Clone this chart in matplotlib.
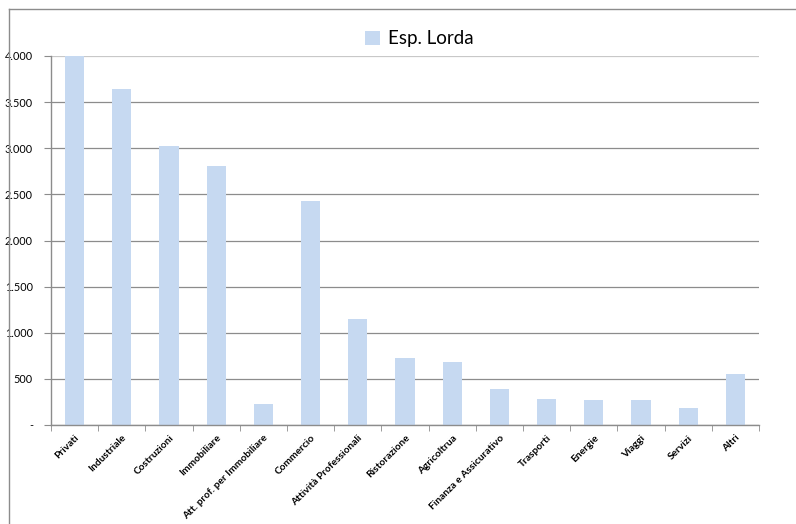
import numpy as np
import matplotlib.pyplot as plt
from matplotlib.lines import Line2D
from matplotlib.ticker import FixedLocator

plt.rcParams['font.family'] = ['Lato', 'DejaVu Sans']

categorie = ['Privati', 'Industriale', 'Costruzioni', 'Immobiliare',
             'Att. prof. per Immobiliare', 'Commercio', 'Attività Professionali',
             'Ristorazione', 'Agricoltrua', 'Finanza e Assicurativo', 'Trasporti',
             'Energie', 'Viaggi', 'Servizi', 'Altri']
esp_lorda = [4000, 3640, 3025, 2810, 230, 2425, 1150, 725, 680, 390, 282, 272, 272, 185, 553]
yticks = [0, 500, 1000, 1500, 2000, 2500, 3000, 3500, 4000]
ytick_labels = ['-', '500', '1.000', '1.500', '2.000', '2.500', '3.000', '3.500', '4.000']

fig = plt.figure(figsize=(7.96, 5.24), dpi=100)
ax = fig.add_axes([51/796, 1 - 425/524, (759 - 51)/796, (425 - 56)/524])

x = np.arange(len(categorie))
ax.bar(x, esp_lorda, width=0.41, color='#c6d9f1', label='Esp. Lorda', zorder=2)

ax.set_xlim(-0.5, len(categorie) - 0.5)
ax.set_ylim(0, 4000)
ax.set_yticks(yticks)
ax.set_yticklabels(ytick_labels, fontsize=7.8)
ax.yaxis.grid(True, color='#8c8c8c', linewidth=0.9, zorder=0)
ax.set_axisbelow(True)
# la griglia in alto e' piu' chiara
ax.yaxis.get_gridlines()[-1].set_color('#c8c8c8')

ax.set_xticks(x)
ax.set_xticklabels(categorie, rotation=45, ha='right', rotation_mode='anchor',
                   fontsize=7.3, fontweight='bold')
ax.tick_params(axis='x', which='major', length=0, pad=6)
ax.xaxis.set_minor_locator(FixedLocator(np.arange(-0.5, len(categorie), 1.0)))
ax.tick_params(axis='x', which='minor', length=4, color='#8c8c8c', direction='out')
ax.tick_params(axis='y', length=5, color='#8c8c8c', pad=8)

for s in ['top', 'right']:
    ax.spines[s].set_visible(False)
for s in ['left', 'bottom']:
    ax.spines[s].set_color('#8c8c8c')
    ax.spines[s].set_linewidth(1.0)

ax.legend(loc='upper center', bbox_to_anchor=(0.52, 1.115), frameon=False,
          fontsize=13.5, handlelength=0.8, handleheight=0.8, handletextpad=0.4)

# bordo del grafico
fig.add_artist(Line2D([9/796, 9/796], [0, 1 - 9/524], color='#8c8c8c', linewidth=1.0))
fig.add_artist(Line2D([9/796, 1], [1 - 9/524, 1 - 9/524], color='#8c8c8c', linewidth=1.0))

fig.savefig('out.png', dpi=100)
